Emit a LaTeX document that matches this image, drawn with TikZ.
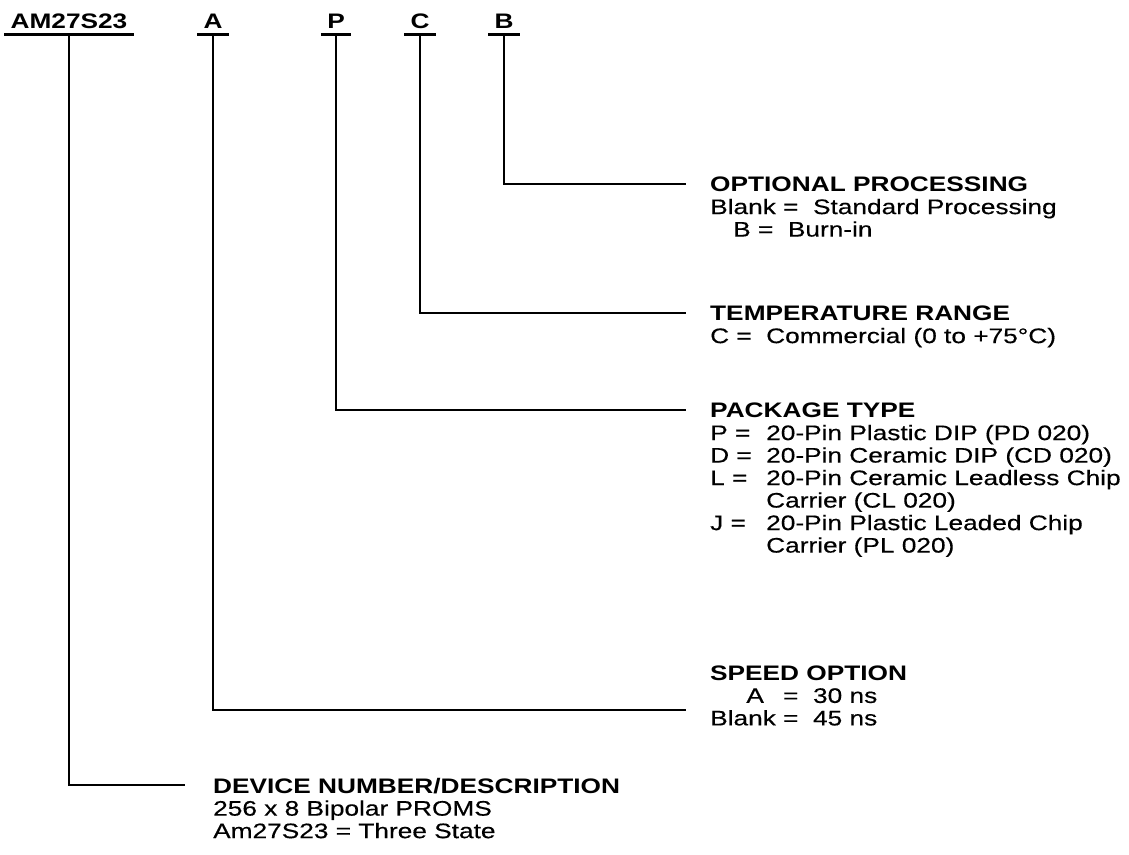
\documentclass[tikz,border=0pt]{standalone}
\usepackage{fontspec}
\setmainfont[FakeStretch=1.25, UprightFeatures={FakeBold=0.4}]{Liberation Sans}
\usetikzlibrary{positioning}
\newcommand{\txtsize}{\fontsize{21}{22.5}\selectfont}
\newcommand{\pkey}[1]{\makebox[56pt][l]{#1 =}}

\begin{document}
\begin{tikzpicture}[
    x=1pt, y=-1pt,
    every node/.style={font=\txtsize},
    tag/.style ={
        font=\txtsize\bfseries,
        text depth=0pt,
        inner xsep=6pt,
        inner ysep=6pt,
        minimum width=30pt,
        anchor=base,
    },
    uline/.style={line width=3pt},
    conn/.style={line width=2pt},
    block/.style={
        align=left,
        inner sep=0pt,
        anchor=north west,
    },
    ]
    \useasboundingbox (0,0) rectangle (1129,854);

    \node[tag] (am) at (69,28) {AM27S23};
    \node[tag] (a) at (213,28) {A};
    \node[tag] (p) at (336,28) {P};
    \node[tag] (c) at (420,28) {C};
    \node[tag] (b) at (504,28) {B};
    \foreach \t in {am,a,p,c,b}
        \draw[uline] (\t.south west) -- (\t.south east);

    \coordinate (bend) at (686,184);
    \coordinate (cend) at (686,313);
    \coordinate (pend) at (686,410);
    \coordinate (aend) at (686,710);
    \coordinate (amend) at (185,785);

    \draw[conn] (b.south) |- (bend);
    \draw[conn] (c.south) |- (cend);
    \draw[conn] (p.south) |- (pend);
    \draw[conn] (a.south) |- (aend);
    \draw[conn] (am.south) |- (amend);

    \node[block, xshift=24pt, yshift=7.3pt] (opt) at (bend)
        {\textbf{OPTIONAL PROCESSING}\\
         Blank = \ Standard Processing\\
         \hspace*{23pt}B = \ Burn-in};
    \node[block, xshift=24pt, yshift=7.3pt] (temp) at (cend)
        {\textbf{TEMPERATURE RANGE}\\
         \pkey{C}Commercial (0 to +75°C)};
    \node[block, xshift=24pt, yshift=7.3pt] (pkg) at (pend)
        {\textbf{PACKAGE TYPE}\\
         \pkey{P}20-Pin Plastic DIP (PD 020)\\
         \pkey{D}20-Pin Ceramic DIP (CD 020)\\
         \pkey{L}20-Pin Ceramic Leadless Chip\\
         \hspace*{56pt}Carrier (CL 020)\\
         \pkey{J}20-Pin Plastic Leaded Chip\\
         \hspace*{56pt}Carrier (PL 020)};
    \node[block, xshift=24pt, yshift=44.5pt] (speed) at (aend)
        {\textbf{SPEED OPTION}\\
         \hphantom{Blank}\llap{A\hspace{12pt}} = \ 30 ns\\
         Blank = \ 45 ns};
    \node[block, xshift=28pt, yshift=7.3pt] (dev) at (amend)
        {\textbf{DEVICE NUMBER/DESCRIPTION}\\
         256 x 8 Bipolar PROMS\\
         Am27S23 = Three State};
\end{tikzpicture}
\end{document}
